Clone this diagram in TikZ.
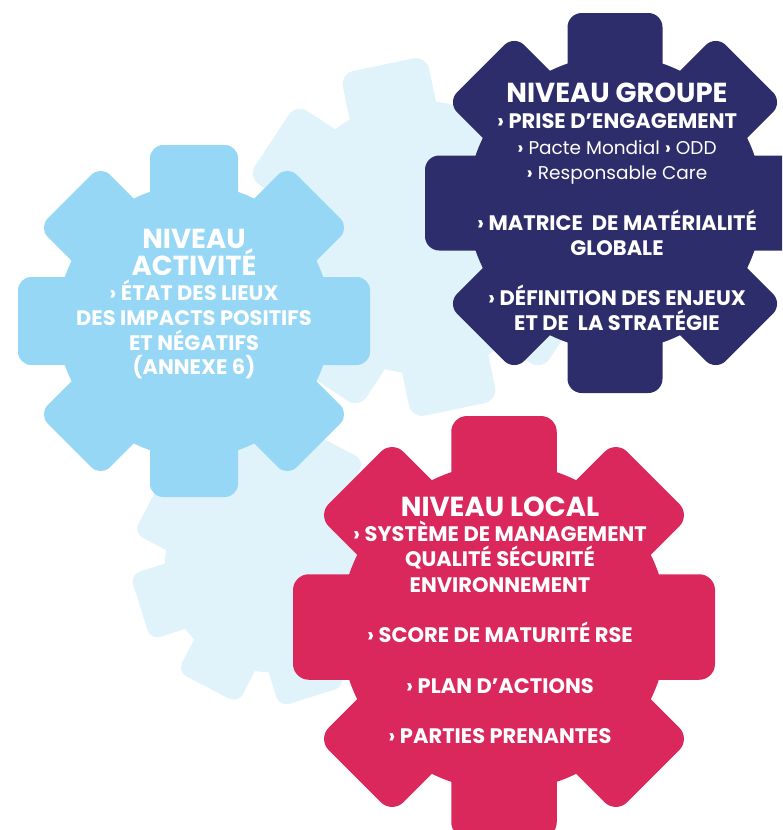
\documentclass[tikz,border=0pt]{standalone}
\usepackage{fontspec}
\setmainfont{Poppins}
\definecolor{pale}{HTML}{E0F3FB}
\definecolor{skyb}{HTML}{96D7F5}
\definecolor{navyb}{HTML}{2D2D6B}
\definecolor{redb}{HTML}{DA285C}
\newcommand\gearshape[6]{% name, cx, cy, R, rotation, colour
  \begin{scope}[shift={(#2,#3)}, rotate=#5]
    \pgfmathsetmacro\gearcr{0.075*#4}
    \pgfmathsetmacro\gearhw{0.25*#4}
    \pgfmathsetmacro\gearrr{0.775*#4}
    \fill[#6] (0,0) circle[radius=\gearrr];
    \foreach \a in {0,45,90,135}{
      \fill[#6, rotate=\a, rounded corners=\gearcr pt] (-\gearhw,-#4) rectangle (\gearhw,#4);
    }
    \coordinate (#1) at (0,0);
  \end{scope}}
\tikzset{
  ln/.style={text=white, anchor=base, inner sep=0pt, font=\bfseries\fontsize{21}{21}\selectfont},
  ttl/.style={ln, font=\bfseries\fontsize{27.5}{27.5}\selectfont},
  lt/.style={ln, font=\fontsize{18.5}{18.5}\selectfont},
}
\begin{document}
\begin{tikzpicture}[x=1pt,y=-1pt]
\useasboundingbox (0,0) rectangle (782,830);
\clip (0,0) rectangle (782,830);
% background gears
\gearshape{gpale1}{419}{237}{176}{11.7}{pale}
\gearshape{gpale2}{271}{566}{137}{17.5}{pale}
% main gears
\gearshape{gact}{194}{321}{176}{0}{skyb}
\gearshape{ggrp}{615}{203}{190}{0}{navyb}
\gearshape{gloc}{504}{627}{211}{0}{redb}
% niveau activite
\node[ttl] (a1) at (194,248) {NIVEAU};
\node[ttl] (a2) at (194,275) {ACTIVITÉ};
\node[ln] (a3) at (194,300) {› ÉTAT DES LIEUX};
\node[ln] (a4) at (194,325) {DES IMPACTS POSITIFS};
\node[ln] (a5) at (194,350) {ET NÉGATIFS};
\node[ln] (a6) at (194,374) {(ANNEXE 6)};
% niveau groupe
\node[ttl] (g1) at (617,102) {NIVEAU GROUPE};
\node[ln] (g2) at (617,128) {› PRISE D’ENGAGEMENT};
\node[lt] (g3) at (617,154) {{\bfseries ›} Pacte Mondial {\bfseries ›} ODD};
\node[lt] (g4) at (617,179) {{\bfseries ›} Responsable Care};
\node[ln] (g5) at (617,230) {› MATRICE\ \ DE MATÉRIALITÉ};
\node[ln] (g6) at (617,255) {GLOBALE};
\node[ln] (g7) at (617,305) {› DÉFINITION DES ENJEUX};
\node[ln] (g8) at (617,330) {ET DE\ \ LA STRATÉGIE};
% niveau local
\node[ttl] (l1) at (500,516) {NIVEAU LOCAL};
\node[ln] (l2) at (500,541) {› SYSTÈME DE MANAGEMENT};
\node[ln] (l3) at (500,566) {QUALITÉ SÉCURITÉ};
\node[ln] (l4) at (500,592) {ENVIRONNEMENT};
\node[ln] (l5) at (500,642) {› SCORE DE MATURITÉ RSE};
\node[ln] (l6) at (500,693) {› PLAN D’ACTIONS};
\node[ln] (l7) at (500,743) {› PARTIES PRENANTES};
\end{tikzpicture}
\end{document}
